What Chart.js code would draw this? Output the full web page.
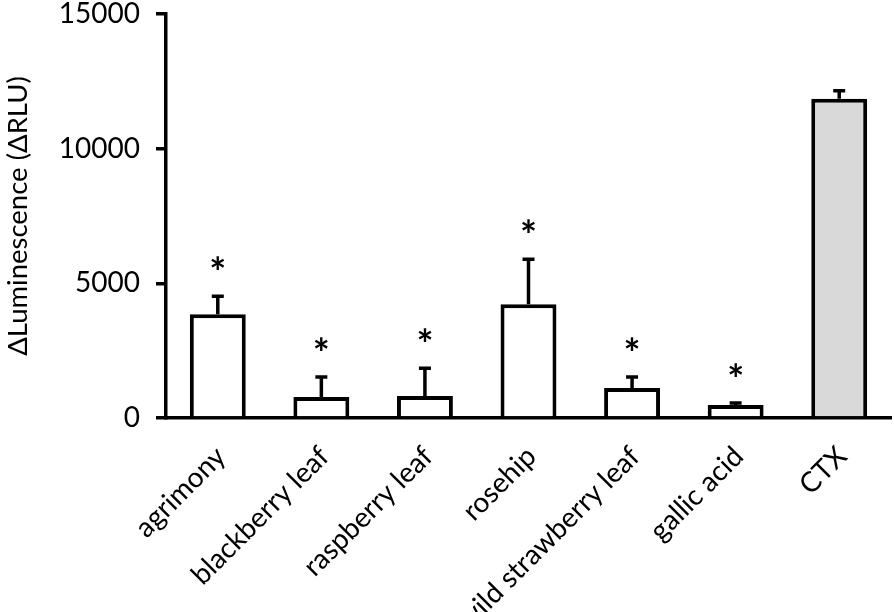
<!DOCTYPE html>
<html>
<head>
<meta charset="utf-8">
<script src="https://cdn.jsdelivr.net/npm/chart.js@4/dist/chart.umd.min.js"></script>
<style>
  html, body { margin: 0; padding: 0; background: #fff; }
  #wrap { width: 894px; height: 612px; }
</style>
</head>
<body>
<div id="wrap"><canvas id="chart" width="894" height="612"></canvas></div>
<script>
// extracts and controls, luminescence values
var labels = ['agrimony', 'blackberry leaf', 'raspberry leaf', 'rosehip', 'wild strawberry leaf', 'gallic acid', 'CTX'];
var values = [3850, 780, 815, 4220, 1110, 480, 11850];
var errors = [670, 740, 1035, 1670, 410, 80, 300];
var starred = [true, true, true, true, true, true, false];
var yTicks = [0, 5000, 10000, 15000];

var fills = labels.map(function(l) { return l == 'CTX' ? '#d9d9d9' : '#ffffff'; });
var font = 'Lato, "Open Sans", "Liberation Sans", sans-serif';

// error bars + asterisks on top of each bar
var errPlugin = {
	id: 'errbars',
	afterDatasetsDraw: function(chart) {
		var ctx = chart.ctx;
		var y = chart.scales.y;
		var meta = chart.getDatasetMeta(0);
		ctx.save();
		ctx.strokeStyle = '#000';
		ctx.lineWidth = 3.5;
		for (var i = 0; i < meta.data.length; i++) {
			var bar = meta.data[i];
			var top = y.getPixelForValue(values[i]);
			var cap = y.getPixelForValue(values[i] + errors[i]);
			ctx.beginPath();
			ctx.moveTo(bar.x, top);
			ctx.lineTo(bar.x, cap);
			ctx.moveTo(bar.x - 6, cap);
			ctx.lineTo(bar.x + 6, cap);
			ctx.stroke();
			if (starred[i]) {
				ctx.fillStyle = '#000';
				ctx.font = 'bold 40px ' + font;
				ctx.textAlign = 'center';
				ctx.textBaseline = 'alphabetic';
				ctx.fillText('*', bar.x, cap - 9);
			}
		}
		ctx.restore();
	}
};

new Chart(document.getElementById('chart'), {
	type: 'bar',
	data: {
		labels: labels,
		datasets: [{
			data: values,
			backgroundColor: fills,
			borderColor: '#000',
			borderWidth: 4,
			barPercentage: 0.54,
			categoryPercentage: 1
		}]
	},
	options: {
		responsive: false,
		animation: false,
		layout: { padding: { top: 14, right: 3, left: 0, bottom: 0 } },
		plugins: { legend: { display: false }, tooltip: { enabled: false } },
		scales: {
			x: {
				grid: { display: false },
				border: { display: true, color: '#000', width: 3.5 },
				ticks: {
					color: '#000',
					font: { family: font, size: 28 },
					minRotation: 45,
					maxRotation: 45,
					autoSkip: false,
					labelOffset: 3,
					padding: 14
				},
				afterFit: function(s) { s.height = 194; s.paddingLeft = 0; s.paddingRight = 0; }
			},
			y: {
				min: 0,
				max: 15000,
				afterBuildTicks: function(s) { s.ticks = yTicks.map(function(v) { return { value: v }; }); },
				grid: { drawOnChartArea: false, drawTicks: true, tickLength: 10, color: '#000', lineWidth: 3.5 },
				border: { display: true, color: '#000', width: 3.5 },
				ticks: {
					color: '#000',
					font: { family: font, size: 28 },
					padding: 16,
					callback: function(v) { return String(v); }
				},
				title: {
					display: true,
					text: '\u0394Luminescence (\u0394RLU)',
					color: '#000',
					font: { family: font, size: 27.5 },
					padding: { top: 2, bottom: 0 }
				},
				afterFit: function(s) { s.width = 166; s.paddingTop = 0; s.paddingBottom = 0; }
			}
		}
	},
	plugins: [errPlugin]
});
</script>
</body>
</html>
